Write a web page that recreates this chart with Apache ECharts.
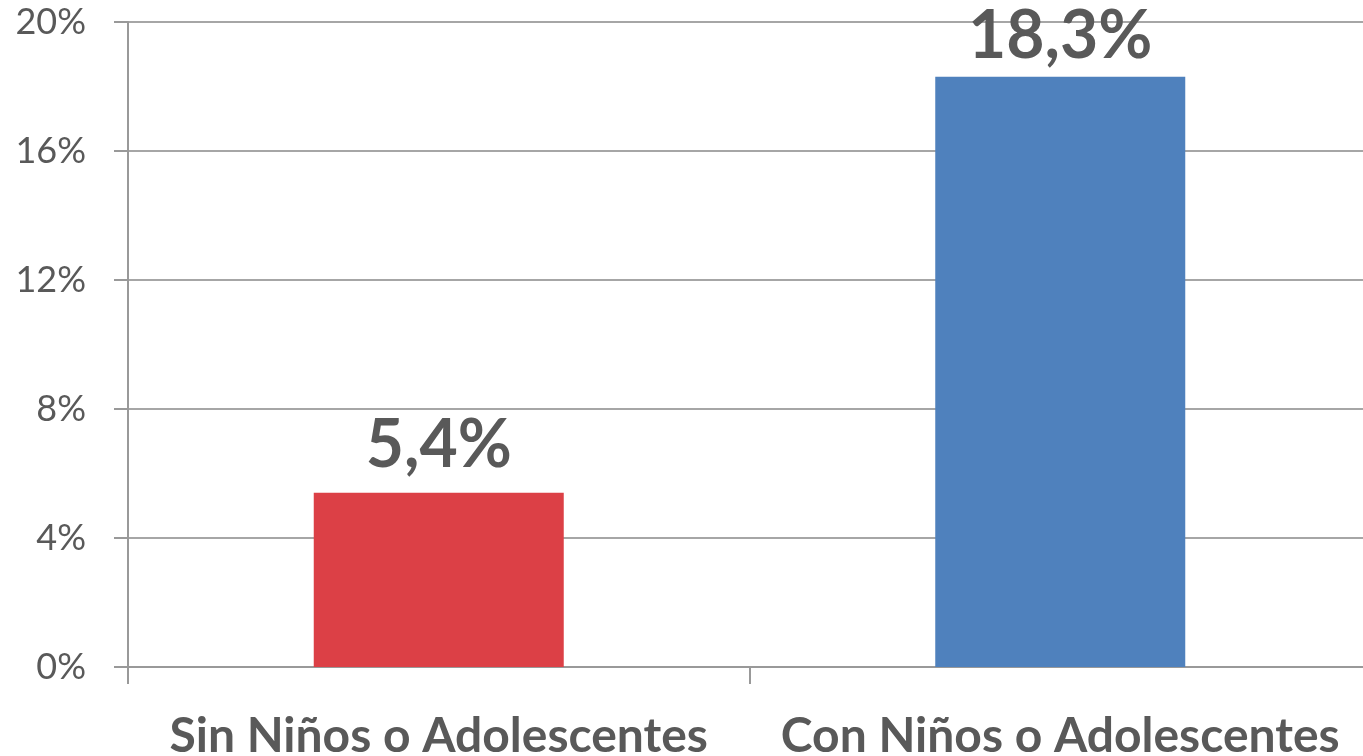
<!DOCTYPE html>
<html>
<head>
<meta charset="utf-8">
<script src="https://cdn.jsdelivr.net/npm/echarts@6/dist/echarts.min.js"></script>
<style>
html,body{margin:0;padding:0;background:#fff;}
#chart{width:1363px;height:756px;}
</style>
</head>
<body>
<div id="chart"></div>
<script>
const categories = ['Sin Niños o Adolescentes', 'Con Niños o Adolescentes'];
const values = [5.4, 18.3];
const barColors = ['#DC4046', '#4F81BD'];
const labelDistances = [14, 7];

const chart = echarts.init(document.getElementById('chart'));
const fmt = v => v.toFixed(1).replace('.', ',') + '%';

chart.setOption({
  animation: false,
  grid: { left: 128, width: 1243, top: 22, bottom: 89, containLabel: false, outerBoundsMode: 'none' },
  xAxis: {
    type: 'category',
    data: categories,
    boundaryGap: true,
    axisLine: { lineStyle: { color: '#999', width: 2 } },
    axisTick: { show: true, length: 17, lineStyle: { color: '#999', width: 2 } },
    axisLabel: {
      interval: 0,
      hideOverlap: false,
      margin: 46,
      color: '#595959',
      fontFamily: 'Lato',
      fontWeight: 'bold',
      fontSize: 48
    }
  },
  yAxis: {
    type: 'value',
    min: 0,
    max: 20,
    interval: 4,
    axisLine: { show: true, lineStyle: { color: '#999', width: 2 } },
    axisTick: { show: true, length: 14, lineStyle: { color: '#999', width: 2 } },
    splitLine: { show: true, lineStyle: { color: '#a6a6a6', width: 2 } },
    axisLabel: {
      margin: 42,
      color: '#595959',
      fontFamily: 'Lato',
      fontSize: 36,
      formatter: '{value}%'
    }
  },
  series: [{
    type: 'bar',
    barWidth: 250,
    data: values.map((v, i) => ({
      value: v,
      itemStyle: { color: barColors[i] },
      label: { distance: labelDistances[i] }
    })),
    label: {
      show: true,
      position: 'top',
      color: '#595959',
      fontFamily: 'Lato',
      fontWeight: 'bold',
      fontSize: 66,
      formatter: p => fmt(p.value)
    }
  }]
});
</script>
</body>
</html>
